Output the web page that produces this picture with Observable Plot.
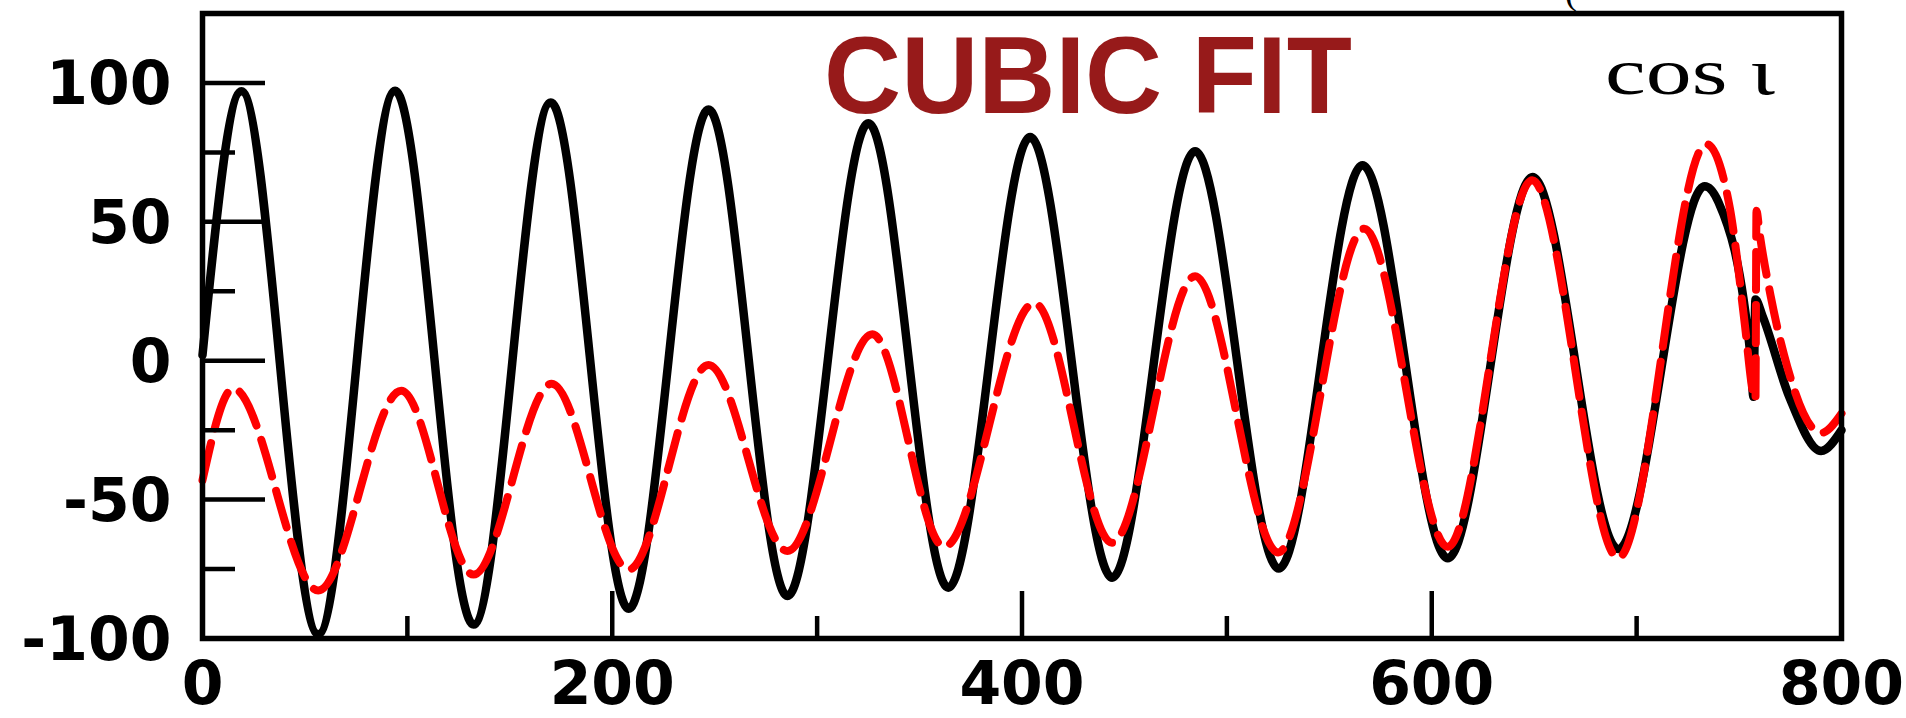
<!DOCTYPE html>
<html>
<head>
<meta charset="utf-8">
<script src="https://cdn.jsdelivr.net/npm/d3@7"></script>
<script src="https://cdn.jsdelivr.net/npm/@observablehq/plot@0.6"></script>
<style>
html, body { margin: 0; padding: 0; background: #fff; }
#chart svg { display: block; }
</style>
</head>
<body>
<div id="chart"></div>
<script>
// ---- data ----
const blackX = [0, 19, 56.5, 94, 132.3, 170, 208, 247, 285.5, 325, 364, 404, 444, 484.5, 525.3, 566.2, 607.8, 649.2, 691.1, 733.2, 740, 755.7, 757, 758, 761.5, 774.5, 790, 800];
const blackY = [2, 97, -98.5, 97.2, -95, 93, -89.3, 90.4, -84.7, 85.5, -81.7, 80.5, -78.1, 75.4, -74.8, 70.4, -71.1, 66.1, -67.8, 62.8, 57, 1, -13, 22, 16, -13, -32.5, -25];

const redX = [0, 15, 56.5, 97, 132.3, 170.4, 208, 247, 285.5, 327, 362, 406, 444, 484.5, 525, 567, 607.8, 649, 691, 734, 745.5, 749, 752.5, 758, 758.5, 760, 765.5, 772, 790, 800];
const redY = [-43, -10, -82.7, -10.8, -77, -8.3, -75.2, -1.5, -68.5, 9.5, -67, 20.8, -65.5, 30.4, -69, 47.5, -67, 65, -71, 78, 55, 37, 15, -14, 54, 46, 23, 2, -26, -19];

const xTickLabels = [0, 200, 400, 600, 800];
const xMajorTicks = [200, 400, 600];
const xMinorTicks = [100, 300, 500, 700];
const yTickLabels = [-100, -50, 0, 50, 100];
const yMajorTicks = [-50, 0, 50, 100];
const yMinorTicks = [-75, -25, 25, 75];

const titleText = "CUBIC FIT";
const annotationText = "cos \u03B9";
const cutText = "(";

// ---- build tables ----
const black = blackX.map((x, i) => ({x, y: blackY[i]}));
const red = redX.map((x, i) => ({x, y: redY[i]}));

const labelFont = {fontSize: 60, fontFamily: "DejaVu Sans", fontWeight: "bold", fill: "black"};

const chart = Plot.plot({
  width: 1906,
  height: 718,
  marginLeft: 202,
  marginRight: 65,
  marginTop: 13,
  marginBottom: 80,
  style: {background: "white", fontFamily: "DejaVu Sans"},
  x: {domain: [0, 800]},
  y: {domain: [-100, 125]},
  marks: [
    Plot.lineY(black, {x: "x", y: "y", stroke: "black", strokeWidth: 8.5, curve: "monotone-x"}),
    Plot.lineY(red, {x: "x", y: "y", stroke: "#ff0000", strokeWidth: 8, strokeDasharray: "38,15", curve: "monotone-x"}),
    // inward ticks
    Plot.axisY(yMajorTicks, {anchor: "left", tickSize: -63, strokeWidth: 4.5, stroke: "black", fill: "none", label: null}),
    Plot.axisY(yMinorTicks, {anchor: "left", tickSize: -33, strokeWidth: 4.5, stroke: "black", fill: "none", label: null}),
    Plot.axisX(xMajorTicks, {anchor: "bottom", tickSize: -47, strokeWidth: 4.5, stroke: "black", fill: "none", label: null}),
    Plot.axisX(xMinorTicks, {anchor: "bottom", tickSize: -22, strokeWidth: 4.5, stroke: "black", fill: "none", label: null}),
    // tick labels
    Plot.axisY(yTickLabels, {anchor: "left", tickSize: 0, tickPadding: 31, label: null, tickFormat: d => String(d), dy: 2, ...labelFont}),
    Plot.axisX(xTickLabels, {anchor: "bottom", tickSize: 0, tickPadding: 23, label: null, tickFormat: d => String(d), ...labelFont}),
    Plot.frame({stroke: "black", strokeWidth: 5.5}),
    // annotations
    Plot.text([titleText], {text: d => d, frameAnchor: "top", lineAnchor: "bottom", dx: 66, dy: 99,
      fontSize: 109, fontFamily: "Liberation Sans", fontWeight: "bold", fill: "#971a1a"}),
    Plot.text([annotationText], {text: d => d, frameAnchor: "top", lineAnchor: "bottom", textAnchor: "start", dx: 583, dy: 80,
      fontSize: 66, fontFamily: "Liberation Serif", fill: "black"}),
    Plot.text([cutText], {text: d => d, frameAnchor: "top", lineAnchor: "bottom", dx: 549, dy: -10,
      fontSize: 36, fontFamily: "Liberation Serif", fill: "black"})
  ]
});

d3.select(chart).selectAll("text")
  .filter(function() { return this.textContent === titleText; })
  .attr("textLength", 528).attr("lengthAdjust", "spacingAndGlyphs");
d3.select(chart).selectAll("text")
  .filter(function() { return this.textContent === annotationText; })
  .attr("textLength", 170).attr("lengthAdjust", "spacingAndGlyphs");

document.getElementById("chart").appendChild(chart);
</script>
</body>
</html>
